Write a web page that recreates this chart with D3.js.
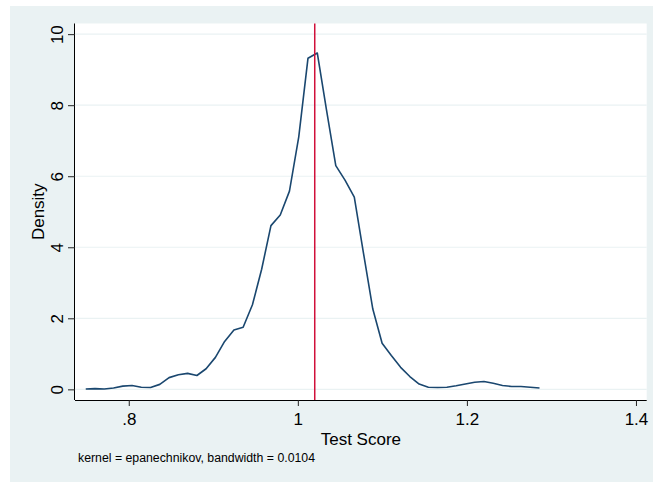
<!DOCTYPE html>
<html>
<head>
<meta charset="utf-8">
<script src="https://cdn.jsdelivr.net/npm/d3@7"></script>
<style>
	body { margin: 0; background: #ffffff; }
	text { font-family: "Liberation Sans", Arial, sans-serif; fill: #000; }
</style>
</head>
<body>
<div id="chart"></div>
<script>
//-------------------------------------
// data
//-------------------------------------
var score = [
	0.7491, 0.7601, 0.7710, 0.7820, 0.7929, 0.8039, 0.8148, 0.8258, 0.8367, 0.8477,
	0.8587, 0.8696, 0.8806, 0.8915, 0.9025, 0.9134, 0.9244, 0.9353, 0.9463, 0.9572,
	0.9682, 0.9792, 0.9901, 1.0011, 1.0120, 1.0230, 1.0339, 1.0449, 1.0558, 1.0668,
	1.0777, 1.0887, 1.0997, 1.1106, 1.1216, 1.1325, 1.1435, 1.1544, 1.1654, 1.1763,
	1.1873, 1.1982, 1.2092, 1.2202, 1.2311, 1.2421, 1.2530, 1.2640, 1.2749, 1.2859
];
var density = [
	0.01, 0.02, 0.01, 0.04, 0.09, 0.11, 0.06, 0.05, 0.14, 0.33,
	0.41, 0.45, 0.39, 0.58, 0.90, 1.35, 1.67, 1.75, 2.38, 3.38,
	4.61, 4.91, 5.58, 7.11, 9.32, 9.47, 7.87, 6.30, 5.89, 5.41,
	3.83, 2.26, 1.30, 0.95, 0.62, 0.36, 0.15, 0.06, 0.05, 0.06,
	0.10, 0.15, 0.20, 0.22, 0.17, 0.11, 0.08, 0.08, 0.06, 0.04
];
var refLine = 1.02;

var xTicks = [0.8, 1, 1.2, 1.4];
var xTickLabels = [".8", "1", "1.2", "1.4"];
var yTicks = [0, 2, 4, 6, 8, 10];

var xTitle = "Test Score";
var yTitle = "Density";
var note = "kernel = epanechnikov, bandwidth = 0.0104";

//-------------------------------------
// field
//-------------------------------------
var width = 653;
var height = 483;

var plot = { left: 75, right: 646.7, top: 23.5, bottom: 400 };

var svg = d3.select("#chart")
	.append("svg")
	.attr("width", width)
	.attr("height", height);

// outer graph region
svg.append("rect")
	.attr("x", 10)
	.attr("y", 6)
	.attr("width", width - 10)
	.attr("height", 476)
	.style("fill", "#eaf2f3");

// plot region
svg.append("rect")
	.attr("x", plot.left)
	.attr("y", plot.top)
	.attr("width", plot.right - plot.left)
	.attr("height", plot.bottom - plot.top)
	.style("fill", "#ffffff");

var x = d3.scaleLinear()
	.domain([0.7364, 1.4127])
	.range([plot.left, plot.right]);

var y = d3.scaleLinear()
	.domain([-0.3, 10.3])
	.range([plot.bottom, plot.top]);

//grid---------------------------------
svg.append("g")
	.selectAll("line")
	.data(yTicks)
	.enter()
	.append("line")
	.attr("x1", plot.left)
	.attr("x2", plot.right)
	.attr("y1", function(d) { return y(d); })
	.attr("y2", function(d) { return y(d); })
	.style("stroke", "#eaf2f3")
	.style("stroke-width", 1.2);

//axes---------------------------------
var xAxis = svg.append("g")
	.attr("transform", "translate(0," + plot.bottom + ")")
	.call(d3.axisBottom(x)
		.tickValues(xTicks)
		.tickSize(6)
		.tickPadding(7)
		.tickFormat(function(d, i) { return xTickLabels[i]; }));

xAxis.select(".domain")
	.attr("d", "M" + plot.left + ",0.5H" + plot.right)
	.style("stroke", "#000");
xAxis.selectAll(".tick line").style("stroke", "#222");
xAxis.selectAll(".tick text")
	.style("font-size", "17px")
	.style("fill", "#000")
	.style("font-family", "'Liberation Sans', Arial, sans-serif");

var yAxis = svg.append("g")
	.attr("transform", "translate(" + plot.left + ",0)")
	.call(d3.axisLeft(y)
		.tickValues(yTicks)
		.tickSize(7)
		.tickFormat(d3.format("d")));

yAxis.select(".domain")
	.attr("d", "M-0.5," + plot.top + "V" + plot.bottom)
	.style("stroke", "#000");
yAxis.selectAll(".tick line").style("stroke", "#222");
yAxis.selectAll(".tick text")
	.attr("x", null)
	.attr("dy", null)
	.attr("transform", "translate(-12,0) rotate(-90)")
	.attr("text-anchor", "middle")
	.style("font-size", "17px")
	.style("fill", "#000")
	.style("font-family", "'Liberation Sans', Arial, sans-serif");

//curve--------------------------------
var points = d3.zip(score, density);

var line = d3.line()
	.x(function(d) { return x(d[0]); })
	.y(function(d) { return y(d[1]); });

svg.append("path")
	.datum(points)
	.attr("d", line)
	.style("fill", "none")
	.style("stroke", "#1a476f")
	.style("stroke-width", 1.6)
	.style("stroke-linejoin", "round");

// reference line
svg.append("line")
	.attr("x1", x(refLine))
	.attr("x2", x(refLine))
	.attr("y1", plot.top)
	.attr("y2", plot.bottom)
	.style("stroke", "#d0103a")
	.style("stroke-width", 1.5);

//titles-------------------------------
svg.append("text")
	.attr("x", (plot.left + plot.right) / 2)
	.attr("y", 445)
	.attr("text-anchor", "middle")
	.style("font-size", "17px")
	.text(xTitle);

svg.append("text")
	.attr("transform", "translate(44," + ((plot.top + plot.bottom) / 2) + ") rotate(-90)")
	.attr("text-anchor", "middle")
	.style("font-size", "17px")
	.text(yTitle);

svg.append("text")
	.attr("x", 78)
	.attr("y", 462)
	.style("font-size", "12.3px")
	.text(note);
</script>
</body>
</html>
